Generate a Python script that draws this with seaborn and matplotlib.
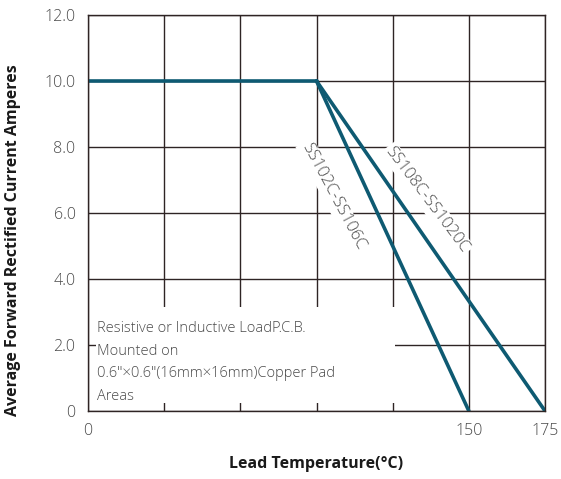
import numpy as np
import matplotlib
matplotlib.use("Agg")
import matplotlib.pyplot as plt
import seaborn as sns

sns.set_style("white")
plt.rcParams["font.family"] = ["Open Sans", "DejaVu Sans"]

# data (lead temperature in C, current in A)
flat_temp = [0, 90]
flat_amps = [10.0, 10.0]
low_temp = [90, 150]
low_amps = [10.0, 0.0]
high_temp = [90, 175]
high_amps = [10.0, 0.0]

grid_temps = [0, 30, 60, 90, 120, 150, 175]
x_labels = ["0", "", "", "", "", "150", "175"]
y_ticks = [0, 2, 4, 6, 8, 10, 12]
y_labels = ["0", "2.0", "4.0", "6.0", "8.0", "10.0", "12.0"]

line_col = "#0e5a72"
grid_col = "#2e2424"
txt_col = "#4a4a4a"


# the chart's x axis is not evenly spaced: 30 per cell up to 150, then 25
def fwd(t):
    t = np.asarray(t, dtype=float)
    return np.where(t <= 150, t / 30.0, 5 + (t - 150) / 25.0)


def inv(p):
    p = np.asarray(p, dtype=float)
    return np.where(p <= 5, p * 30.0, 150 + (p - 5) * 25.0)


fig = plt.figure(figsize=(5.61, 4.79), dpi=100)
ax = fig.add_axes([0.1569, 0.142, 0.8146, 0.8267])
ax.set_xscale("function", functions=(fwd, inv))

sns.lineplot(x=flat_temp, y=flat_amps, ax=ax, color=line_col, linewidth=2.6)
sns.lineplot(x=low_temp, y=low_amps, ax=ax, color=line_col, linewidth=2.6)
sns.lineplot(x=high_temp, y=high_amps, ax=ax, color=line_col, linewidth=2.6)

ax.set_xlim(0, 175)
ax.set_ylim(0, 12)
ax.set_xticks(grid_temps)
ax.set_xticklabels(x_labels)
ax.set_yticks(y_ticks)
ax.set_yticklabels(y_labels)
ax.grid(True, color=grid_col, linewidth=1.0)
for s in ax.spines.values():
    s.set_color(grid_col)
    s.set_linewidth(1.0)
ax.tick_params(axis="both", direction="in", length=8, width=1.0, color=grid_col,
               labelsize=11.5, labelcolor=txt_col)
ax.tick_params(axis="x", pad=9)
ax.tick_params(axis="y", pad=9)
for lab in ax.get_xticklabels() + ax.get_yticklabels():
    lab.set_fontweight("light")

ax.set_xlabel("Lead Temperature(°C)", fontsize=11.5, fontweight="bold", color="#1a1a1a")
ax.xaxis.set_label_coords(0.5, -0.113)
ax.set_ylabel("Average Forward Rectified Current Amperes", fontsize=11.5, fontweight="bold",
              color="#1a1a1a")
ax.yaxis.set_label_coords(-0.146, 0.432)

box = dict(facecolor="white", edgecolor="none", pad=1.5)
ax.text(96.5, 6.5, "SS102C-SS106C", rotation=-62, fontsize=12, color=txt_col,
        ha="center", va="center", bbox=box, fontweight="light", zorder=5)
ax.text(133.5, 6.4, "SS108C-SS1020C", rotation=-53, fontsize=12, color=txt_col,
        ha="center", va="center", bbox=box, fontweight="light", zorder=5)

# white panel behind the note, hides the grid there
ax.add_patch(plt.Rectangle((0.0175, 0.02), 0.655, 0.243, transform=ax.transAxes,
                           facecolor="white", edgecolor="none", zorder=4))
note = ('Resistive or Inductive LoadP.C.B.\nMounted on\n'
        '0.6"×0.6"(16mm×16mm)Copper Pad\nAreas')
ax.text(3.5, 0.2, note, fontsize=10.5, color=txt_col, ha="left", va="bottom",
        linespacing=1.72, fontweight="light", zorder=5)

plt.savefig("out.png", dpi=100)
